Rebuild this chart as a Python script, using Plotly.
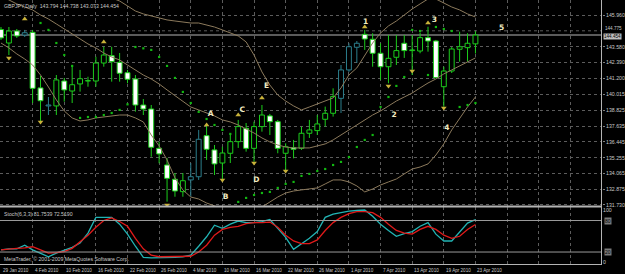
import plotly.graph_objects as go

# ---------------- data ----------------
dates = ["29 Jan 2010",
         "1 Feb 2010", "2 Feb 2010", "3 Feb 2010", "4 Feb 2010", "5 Feb 2010",
         "8 Feb 2010", "9 Feb 2010", "10 Feb 2010", "11 Feb 2010", "12 Feb 2010",
         "15 Feb 2010", "16 Feb 2010", "17 Feb 2010", "18 Feb 2010", "19 Feb 2010",
         "22 Feb 2010", "23 Feb 2010", "24 Feb 2010", "25 Feb 2010", "26 Feb 2010",
         "1 Mar 2010", "2 Mar 2010", "3 Mar 2010", "4 Mar 2010", "5 Mar 2010",
         "8 Mar 2010", "9 Mar 2010", "10 Mar 2010", "11 Mar 2010", "12 Mar 2010",
         "15 Mar 2010", "16 Mar 2010", "17 Mar 2010", "18 Mar 2010", "19 Mar 2010",
         "22 Mar 2010", "23 Mar 2010", "24 Mar 2010", "25 Mar 2010", "26 Mar 2010",
         "29 Mar 2010", "30 Mar 2010", "31 Mar 2010", "1 Apr 2010", "2 Apr 2010",
         "5 Apr 2010", "6 Apr 2010", "7 Apr 2010", "8 Apr 2010", "9 Apr 2010",
         "12 Apr 2010", "13 Apr 2010", "14 Apr 2010", "15 Apr 2010", "16 Apr 2010",
         "19 Apr 2010", "20 Apr 2010", "21 Apr 2010", "22 Apr 2010", "23 Apr 2010"]

opens = [144.87, 143.86, 144.76, 144.46, 144.66, 140.49, 139.14, 139.14, 141.01, 140.26,
         140.79, 141.01, 141.01, 142.36, 142.91, 142.41, 141.63, 141.16, 139.21, 138.91,
         135.96, 134.71, 133.64, 132.71, 133.59, 133.83, 136.91, 135.84, 134.86, 135.59,
         136.46, 137.46, 135.96, 137.59, 138.39, 137.96, 135.59, 136.01, 135.96, 137.09,
         137.29, 138.14, 138.59, 139.71, 141.84, 143.54, 144.51, 144.14, 143.09, 142.08,
         142.79, 143.84, 143.29, 143.26, 144.26, 144.01, 140.58, 141.76, 143.39, 143.51,
         143.794]
highs = [145.06, 145.06, 144.91, 144.84, 144.84, 141.39, 139.81, 141.46, 141.24, 142.21,
         141.84, 141.33, 142.83, 143.58, 143.58, 143.11, 141.84, 141.46, 139.66, 139.21,
         136.46, 135.24, 134.11, 134.11, 134.86, 137.34, 137.71, 136.21, 136.08, 136.96,
         138.09, 137.86, 137.96, 139.21, 138.54, 138.09, 136.34, 136.59, 137.59, 138.09,
         138.46, 139.09, 140.46, 142.21, 143.84, 144.01, 144.84, 144.59, 143.84, 144.46,
         144.46, 144.46, 144.46, 144.64, 145.08, 144.09, 142.08, 143.56, 144.71, 144.59,
         144.738]
lows = [144.09, 142.96, 144.24, 144.31, 139.36, 137.96, 138.46, 138.46, 139.46, 139.36,
        140.21, 140.58, 140.58, 142.08, 140.96, 140.96, 140.84, 138.71, 138.46, 135.33,
        134.84, 131.96, 132.33, 132.33, 132.33, 133.59, 135.09, 133.96, 133.59, 134.86,
        135.99, 135.71, 134.96, 137.21, 136.96, 135.59, 134.34, 135.21, 135.84, 136.74,
        136.96, 137.59, 138.34, 138.61, 141.69, 142.36, 143.34, 142.08, 141.09, 140.84,
        142.21, 142.74, 141.46, 143.09, 143.21, 141.24, 139.08, 141.61, 142.46, 142.46,
        143.073]
closes = [144.24, 144.76, 144.39, 144.63, 140.46, 139.53, 139.21, 141.09, 140.34, 140.73,
          141.18, 141.02, 142.36, 142.96, 142.46, 141.59, 141.14, 139.21, 138.91, 136.04,
          135.54, 133.71, 132.76, 133.53, 133.83, 136.64, 135.89, 134.79, 135.61, 136.46,
          137.59, 135.96, 137.59, 138.46, 137.96, 135.96, 136.08, 135.89, 137.09, 137.34,
          137.79, 138.59, 139.84, 141.84, 143.58, 143.84, 144.16, 143.09, 142.08, 142.71,
          143.29, 143.29, 143.34, 144.26, 144.01, 141.26, 141.76, 143.41, 143.58, 143.84,
          144.454]
teal_bars = [3, 6, 24, 25, 43, 44, 45]

bb_upper = [150.84, 150.84, 150.76, 150.69, 150.54, 150.39, 150.31, 150.24, 150.09, 149.71,
            149.19, 148.59, 148.06, 147.61, 147.24, 147.01, 146.64, 146.26, 146.04, 145.89,
            145.74, 145.59, 145.51, 145.44, 145.36, 145.36, 145.21, 145.06, 144.84, 144.61,
            144.39, 143.94, 142.96, 141.69, 140.71, 139.96, 139.51, 139.14, 138.84, 139.06,
            139.29, 139.51, 139.74, 140.49, 141.46, 141.99, 142.96, 143.86, 144.61, 145.14,
            145.51, 145.96, 146.41, 146.79, 147.16, 147.16, 146.86, 146.56, 146.34, 146.04,
            145.81]
bb_middle = [147.39, 147.09, 146.79, 146.56, 146.34, 145.96, 145.66, 145.29, 144.91, 144.54,
             144.16, 143.79, 143.49, 143.11, 142.81, 142.59, 142.21, 141.84, 141.46, 141.16,
             140.79, 140.34, 139.89, 139.44, 139.06, 138.84, 138.61, 138.39, 138.09, 137.94,
             137.71, 137.41, 137.11, 136.74, 136.44, 136.21, 136.06, 135.99, 135.99, 135.99,
             136.14, 136.29, 136.59, 136.96, 137.34, 137.71, 138.09, 138.46, 138.76, 139.14,
             139.51, 139.81, 140.11, 140.49, 140.86, 141.16, 141.54, 141.84, 142.14, 142.44,
             142.74]
bb_lower = [143.86, 143.49, 143.04, 142.66, 142.21, 141.46, 140.56, 139.59, 138.76, 138.24,
            138.01, 138.09, 138.24, 138.31, 138.39, 138.46, 138.46, 138.24, 137.94, 136.96,
            136.14, 135.09, 133.74, 132.84, 132.31, 132.16, 131.86, 131.64, 131.34, 131.19,
            131.11, 131.11, 131.26, 131.56, 131.94, 132.31, 132.61, 132.76, 132.84, 132.91,
            132.99, 133.29, 133.59, 133.59, 133.44, 133.14, 132.69, 132.91, 133.21, 133.44,
            133.66, 134.04, 134.41, 134.56, 134.79, 135.46, 136.29, 137.34, 138.24, 139.06,
            139.81]

# parabolic SAR dots (None where not read)
sar = [None, None, None, None, None, 145.36, 144.84, 143.86, 142.96, 142.14,
       138.24, 138.31, 138.31, 138.46, 138.61, 138.84, 139.26, 143.56, 143.46, 143.34,
       142.81, 142.14, 141.24, 140.19, 139.36, 138.69, 138.16, 137.71, 137.34, 137.04,
       131.94, 132.24, 132.46, 132.61, 132.69, 132.99, 133.29, 133.44, 133.89, 134.04,
       134.26, 134.41, 134.71, 134.94, 135.31, 136.06, 136.59, 136.96, 139.06, 139.81,
       140.64, 141.31, 144.84, 144.76, 141.46, 145.06, 144.91, 144.76, 139.06, 139.21,
       139.36]

fractal_up_idx = [3, 13, 26, 30, 33, 46, 54]
fractal_up_val = [145.66, 143.94, 137.71, 138.46, 139.74, 145.06, 145.36]
fractal_dn_idx = [1, 5, 21, 28, 32, 36, 49, 52, 56]
fractal_dn_val = [142.74, 137.94, 131.71, 133.59, 134.86, 134.26, 140.64, 141.76, 138.99]

wave_text = ["A", "B", "C", "D", "E", "1", "2", "3", "4", "5"]
wave_pos = [26.5, 28.4, 30.5, 32.3, 33.6, 46.1, 49.7, 54.8, 56.4, 63.3]
wave_val = [138.51, 132.33, 138.84, 133.59, 140.64, 145.44, 138.46, 145.59, 137.49, 144.99]

stoch_k = [24, 26, 26, 33, 24, 18, 11, 18, 24, 29, 37, 56, 86, 86, 86, 73, 54, 31, 10, 9,
           9, 10, 10, 11, 14, 31, 49, 71, 65, 73, 79, 76, 76, 78, 82, 65, 48, 25, 35, 46,
           59, 86, 92, 95, 98, 99, 100, 88, 73, 61, 50, 55, 59, 69, 76, 54, 41, 41, 59, 75,
           81.7539]
stoch_d = [24, 26, 27, 28, 30, 24, 18, 19, 21, 27, 39, 52, 67, 80, 85, 78, 69, 46, 26, 14,
           11, 11, 11, 11, 12, 20, 33, 52, 63, 67, 69, 74, 76, 76, 77, 67, 52, 41, 36, 36,
           43, 61, 76, 86, 93, 97, 97, 95, 86, 73, 61, 56, 54, 63, 69, 63, 52, 46, 50, 63,
           72.5190]

price_ticks = [145.960, 143.580, 142.390, 141.200, 140.015, 138.825, 137.635,
               136.445, 135.255, 134.065, 132.875, 131.730]
hidden_tick = 144.775
stoch_levels = [80, 20]
bid = closes[-1]

# ---------------- layout geometry ----------------
W, H = 625, 274
ML, MR, MT, MB = 0, 19, 0, 9
PW, PH = W - ML - MR, H - MT - MB
BAR_PX = 7.96
X0 = -1 / BAR_PX
X1 = X0 + PW / BAR_PX
MAIN_BOTTOM_PX = 206
STO_TOP_PX = 207


def pxx(x):
    return x / PW


def pxy(y):
    return (PH - y) / PH


GREEN = "#1ccd1c"
TEAL = "#2b7e8c"
BAND = "#8c7a5c"
ARROW = "#c9b23a"
GRID = "#5c5c5c"
TXT = "#c8c8c8"
FONT = "Liberation Sans"

n = len(closes)
idx = list(range(n))

fig = go.Figure()

# candle wicks
for col, sel in [(GREEN, [i for i in idx if i not in teal_bars]), (TEAL, teal_bars)]:
    wx, wy = [], []
    for i in sel:
        top = max(opens[i], closes[i])
        bot = min(opens[i], closes[i])
        wx += [i, i, None, i, i, None]
        wy += [highs[i], top, None, bot, lows[i], None]
    fig.add_trace(go.Scatter(x=wx, y=wy, mode="lines", line=dict(color=col, width=1),
                             hoverinfo="skip", xaxis="x", yaxis="y"))

# candle bodies
bases = [min(o, c) for o, c in zip(opens, closes)]
heights = [max(abs(c - o), 0.03) for o, c in zip(opens, closes)]
fills = ["#000000" if c >= o else "#ffffff" for o, c in zip(opens, closes)]
lcols = [TEAL if i in teal_bars else GREEN for i in idx]
fig.add_trace(go.Bar(x=idx, y=heights, base=bases, width=0.62,
                     marker=dict(color=fills, line=dict(color=lcols, width=1)),
                     hoverinfo="skip", xaxis="x", yaxis="y"))

# bollinger bands
for band in (bb_upper, bb_middle, bb_lower):
    fig.add_trace(go.Scatter(x=idx, y=band, mode="lines", line=dict(color=BAND, width=1),
                             hoverinfo="skip", xaxis="x", yaxis="y"))

# parabolic SAR
fig.add_trace(go.Scatter(x=idx, y=sar, mode="markers",
                         marker=dict(color="#12b812", size=2.2, symbol="square"),
                         hoverinfo="skip", xaxis="x", yaxis="y"))

# fractals
fig.add_trace(go.Scatter(x=fractal_up_idx, y=fractal_up_val, mode="markers",
                         marker=dict(color=ARROW, size=5, symbol="triangle-up"),
                         hoverinfo="skip", xaxis="x", yaxis="y"))
fig.add_trace(go.Scatter(x=fractal_dn_idx, y=fractal_dn_val, mode="markers",
                         marker=dict(color=ARROW, size=5, symbol="triangle-down"),
                         hoverinfo="skip", xaxis="x", yaxis="y"))

# wave labels
fig.add_trace(go.Scatter(x=wave_pos, y=wave_val, mode="text",
                         text=["<b>%s</b>" % t for t in wave_text],
                         textfont=dict(color="#f2ebc0", size=7.5, family="DejaVu Sans"),
                         hoverinfo="skip", xaxis="x", yaxis="y"))

# stochastic
fig.add_trace(go.Scatter(x=idx, y=stoch_k, mode="lines", line=dict(color="#22b4b4", width=1.3),
                         hoverinfo="skip", xaxis="x2", yaxis="y2"))
fig.add_trace(go.Scatter(x=idx, y=stoch_d, mode="lines", line=dict(color="#e01a1a", width=1.3),
                         hoverinfo="skip", xaxis="x2", yaxis="y2"))

vgrid = list(range(0, 80, 4))
P_TOP = 147.085
P_BOT = 131.635

fig.update_layout(
    width=W, height=H, margin=dict(l=ML, r=MR, t=MT, b=MB),
    paper_bgcolor="#000000", plot_bgcolor="#000000", showlegend=False,
    barmode="overlay",
    xaxis=dict(domain=[0, 1], range=[X0, X1], anchor="y", tickvals=vgrid, showticklabels=False,
               showgrid=True, gridcolor=GRID, griddash="dot", gridwidth=1, zeroline=False,
               ticks=""),
    xaxis2=dict(domain=[0, 1], range=[X0, X1], anchor="y2", matches="x", tickvals=vgrid,
                showticklabels=False, showgrid=True, gridcolor=GRID, griddash="dot",
                zeroline=False, ticks=""),
    yaxis=dict(domain=[pxy(MAIN_BOTTOM_PX), 1], range=[P_BOT, P_TOP], side="right",
               anchor="x", tickvals=price_ticks, ticktext=["%.3f" % v for v in price_ticks],
               tickfont=dict(size=5.2, color=TXT, family=FONT),
               showgrid=True, gridcolor=GRID, griddash="dot", zeroline=False,
               ticks="outside", ticklen=2, tickcolor="#808080"),
    yaxis2=dict(domain=[0, pxy(STO_TOP_PX)], range=[-4.7, 105.7], side="right", anchor="x2",
                tickvals=[100, 0], ticktext=["100", "0"],
                tickfont=dict(size=5.2, color=TXT, family=FONT),
                showgrid=False, zeroline=False, ticks=""),
)

shapes = []
# grid line of the partly hidden price label
shapes.append(dict(type="line", xref="paper", yref="y", x0=0, x1=1, y0=hidden_tick, y1=hidden_tick,
                   line=dict(color=GRID, width=1, dash="dot"), layer="below"))
# bid line
shapes.append(dict(type="line", xref="paper", yref="y", x0=0, x1=1, y0=bid, y1=bid,
                   line=dict(color="#7a7a7a", width=1.5), layer="below"))
# stochastic levels
for lv in stoch_levels:
    shapes.append(dict(type="line", xref="paper", yref="y2", x0=0, x1=1, y0=lv, y1=lv,
                       line=dict(color="#9a9a9a", width=1)))
# frame
shapes.append(dict(type="line", xref="paper", yref="paper", x0=0, x1=1,
                   y0=pxy(206.5), y1=pxy(206.5), line=dict(color="#b4b4b4", width=2)))
shapes.append(dict(type="line", xref="paper", yref="paper", x0=pxx(605.5), x1=pxx(605.5),
                   y0=0, y1=1, line=dict(color="#b4b4b4", width=1)))
shapes.append(dict(type="line", xref="paper", yref="paper", x0=0, x1=pxx(606),
                   y0=pxy(264.5), y1=pxy(264.5), line=dict(color="#b4b4b4", width=1)))
fig.update_layout(shapes=shapes)

ann = []
small = dict(size=5.2, color=TXT, family=FONT)
ann.append(dict(text="GBPJPY,Daily  %.3f %.3f %.3f %.3f" % (opens[-1], highs[-1], lows[-1], closes[-1]),
                x=pxx(2), y=pxy(1), xref="paper", yref="paper", xanchor="left", yanchor="top",
                showarrow=False, font=small))
ann.append(dict(text="Stoch(6,3,3) %.4f %.4f" % (stoch_k[-1], stoch_d[-1]),
                x=pxx(2), y=pxy(209), xref="paper", yref="paper", xanchor="left", yanchor="top",
                showarrow=False, font=small))
ann.append(dict(text="MetaTrader, \u00a9 2001-2009 MetaQuotes Software Corp.",
                x=pxx(2), y=pxy(264), xref="paper", yref="paper", xanchor="left", yanchor="bottom",
                showarrow=False, font=small))
for k in range(0, n, 4):
    ann.append(dict(text=dates[k], x=k, y=pxy(266), xref="x2", yref="paper",
                    xanchor="left", yanchor="top", xshift=0, showarrow=False,
                    font=dict(size=4.6, color=TXT, family=FONT)))
ann.append(dict(text="%.3f" % hidden_tick, x=1, y=hidden_tick, xref="paper", yref="y",
                xanchor="left", yanchor="bottom", xshift=2, yshift=-1, showarrow=False,
                font=dict(size=4.6, color=TXT, family=FONT), borderpad=0))
ann.append(dict(text="%.3f" % bid, x=1, y=bid, xref="paper", yref="y", xanchor="left",
                yanchor="top", xshift=1, yshift=2, showarrow=False, bgcolor="#bebebe",
                font=dict(size=4.6, color="#000000", family=FONT), borderpad=0))
for lv in stoch_levels:
    ann.append(dict(text=str(lv), x=1, y=lv, xref="paper", yref="y2", xanchor="left",
                    yanchor="middle", xshift=2, showarrow=False, bgcolor="#7a7a7a",
                    font=dict(size=5, color="#000000", family=FONT), borderpad=0))
fig.update_layout(annotations=ann)

fig.write_html("out.html")
